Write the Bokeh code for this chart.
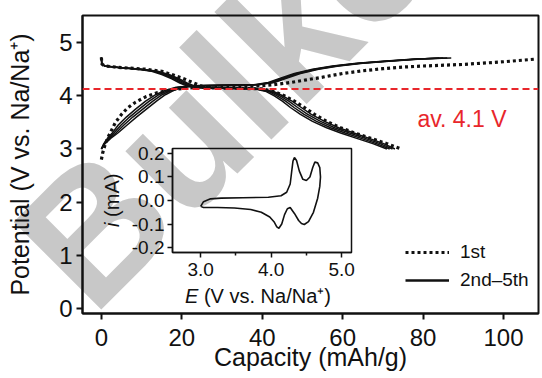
import math
from bokeh.plotting import figure
from bokeh.models import Range1d, Span, Label, Legend, LegendItem, FixedTicker, Div
from bokeh.layouts import column
from bokeh.embed import file_html
from bokeh.resources import INLINE

# ---------------- data ----------------
# 1st cycle (dotted)
cap_ch1 = [0, 0.3, 0.8, 1.5, 2.5, 3.5, 5, 6.5, 8.5, 11, 14, 18, 22, 30, 38, 43, 47, 51, 55, 60, 65, 70, 75, 80, 90, 100, 108]
v_ch1 = [2.80, 2.92, 3.05, 3.20, 3.35, 3.50, 3.65, 3.77, 3.88, 3.98, 4.06, 4.12, 4.15, 4.17, 4.18, 4.21, 4.25, 4.30, 4.35, 4.42, 4.47, 4.51, 4.54, 4.56, 4.59, 4.64, 4.69]
v_dis = [4.72, 4.60, 4.56, 4.53, 4.50, 4.46, 4.40, 4.32, 4.24, 4.18, 4.15, 4.13, 4.08, 4.00, 3.90, 3.78, 3.65, 3.52, 3.40, 3.30, 3.20, 3.10, 3.00]
cap_dis1 = [0, 0.1, 0.8, 5, 11, 15, 17.5, 20.5, 23, 25, 27, 40, 43, 45.5, 48, 50.5, 53, 56, 59.5, 63, 67, 71, 74.5]

# 2nd-5th cycles (solid)
v_ch = [3.00, 3.10, 3.20, 3.30, 3.45, 3.60, 3.75, 3.90, 4.02, 4.10, 4.16, 4.19, 4.21, 4.25, 4.33, 4.42, 4.50, 4.56, 4.61, 4.65, 4.69, 4.71]
cap_ch2 = [0, 0.6, 1.5, 2.7, 4.2, 6.2, 8.5, 11.0, 13.5, 15.8, 18.6, 22.5, 38, 41.5, 44.5, 48, 52.5, 57.5, 63.5, 70, 78, 87]
cap_ch3 = [0, 0.7, 1.7, 3.1, 4.9, 7.0, 9.4, 11.9, 14.3, 16.5, 19.2, 23.0, 38.5, 42, 45, 48.5, 53, 58, 64, 70.5, 78.5, 86]
cap_ch4 = [0, 0.8, 2.0, 3.6, 5.6, 7.8, 10.3, 12.8, 15.1, 17.2, 19.8, 23.5, 39, 42.5, 45.5, 49, 53.5, 58.5, 64.5, 71, 79, 85]
cap_ch5 = [0, 0.9, 2.3, 4.1, 6.4, 8.7, 11.2, 13.7, 15.9, 17.9, 20.4, 24.0, 39.5, 43, 46, 49.5, 54, 59, 65, 71.5, 79.5, 84]
cap_dis2 = [0, 0.1, 0.8, 4, 9, 12.5, 15, 17.5, 19.5, 21.5, 24, 38, 41, 43, 45, 47, 49.5, 52.5, 56, 59.5, 63.5, 67.5, 71]
cap_dis3 = [0, 0.1, 0.8, 4.2, 9.4, 13.0, 15.6, 18.1, 20.1, 22.1, 24.6, 38.4, 41.6, 43.7, 45.8, 47.9, 50.4, 53.5, 57.0, 60.6, 64.6, 68.4, 71.7]
cap_dis4 = [0, 0.1, 0.8, 4.4, 9.8, 13.5, 16.2, 18.7, 20.7, 22.7, 25.2, 38.8, 42.2, 44.4, 46.6, 48.8, 51.3, 54.5, 58.0, 61.7, 65.6, 69.3, 72.4]
cap_dis5 = [0, 0.1, 0.8, 4.6, 10.2, 14.0, 16.8, 19.3, 21.3, 23.3, 25.8, 39.2, 42.8, 45.1, 47.4, 49.7, 52.2, 55.5, 59.0, 62.8, 66.6, 70.2, 73.0]

avg_voltage = 4.13
avg_text = "av. 4.1 V"
legend_labels = ["1st", "2nd\u20135th"]
watermark = "Bulke"

# CV inset
cv_e = [3.00, 3.04, 3.14, 3.29, 3.60, 3.96, 4.14, 4.22, 4.27, 4.29, 4.31, 4.33, 4.36, 4.40, 4.45, 4.50, 4.55, 4.59, 4.62, 4.66, 4.69, 4.70, 4.69, 4.66, 4.60, 4.53, 4.47, 4.43, 4.39, 4.33, 4.27, 4.23, 4.19, 4.15, 4.11, 4.08, 4.04, 3.98, 3.86, 3.71, 3.48, 3.24, 3.04, 3.00]
cv_i = [-0.025, -0.005, 0.007, 0.010, 0.012, 0.014, 0.020, 0.035, 0.070, 0.120, 0.168, 0.183, 0.170, 0.125, 0.090, 0.085, 0.100, 0.140, 0.163, 0.160, 0.140, 0.100, 0.060, 0.010, -0.050, -0.090, -0.102, -0.098, -0.085, -0.055, -0.030, -0.035, -0.060, -0.100, -0.118, -0.112, -0.090, -0.070, -0.050, -0.038, -0.032, -0.030, -0.030, -0.025]

x_ticks = [0, 20, 40, 60, 80, 100]
y_ticks = [0, 1, 2, 3, 4, 5]
ins_x_ticks = [3.0, 4.0, 5.0]
ins_x_minor = [3.5, 4.5]
ins_x_labels = ["3.0", "4.0", "5.0"]
ins_y_ticks = [-0.2, -0.1, 0.0, 0.1, 0.2]
ins_y_labels = ["-0.2", "-0.1", "0.0", "0.1", "0.2"]

FONT = "Liberation Sans"
BLACK = "#111111"
RED = "#e8262b"
W, H = 542, 378
LB, RB = 82, 4   # left/right borders shared by the two plots (a column aligns them)

# ---------------- background layer: watermark + inset axis titles (HTML) ----------------
def abs_text(x, y_base, size, angle_deg, inner, extra=""):
    asc = 0.8465 * size   # baseline offset for line-height 1 (Liberation Sans)
    return ('<div style="position:absolute;left:%.1fpx;top:%.1fpx;font-size:%dpx;line-height:1;'
            'white-space:nowrap;transform-origin:0 %.1fpx;transform:rotate(%.1fdeg);%s">%s</div>'
            % (x, y_base - asc, size, asc, -angle_deg, extra, inner))


html = ('<div style="position:relative;width:%dpx;height:%dpx;overflow:hidden;background:white;'
        'font-family:\'%s\';color:%s;">' % (W, H, FONT, BLACK))
html += abs_text(93, 318, 180, 45, watermark, "font-weight:bold;color:#c8c8c8;")
html += abs_text(185, 303, 20, 0, "<i>E</i> (V vs. Na/Na\u207a)")
html += abs_text(119, 227, 20, 90, "<i>i</i> (mA)")
html += "</div>"
bg = Div(text=html, width=W, height=H, margin=0)

# ---------------- main figure ----------------
p = figure(width=W, height=H, x_range=Range1d(-4.7, 108.7), y_range=Range1d(-0.094, 5.51),
           output_backend="svg", toolbar_location=None,
           min_border_left=LB, min_border_right=RB, min_border_top=15, min_border_bottom=65)
p.margin = (-H, 0, 0, 0)
p.grid.visible = False
p.outline_line_color = BLACK
p.outline_line_width = 2
p.background_fill_alpha = 0
p.border_fill_alpha = 0

for ax in (p.xaxis[0], p.yaxis[0]):
    ax.axis_line_width = 2
    ax.axis_line_color = BLACK
    ax.major_tick_line_width = 2
    ax.major_tick_line_color = BLACK
    ax.major_tick_out = 6
    ax.major_tick_in = 0
    ax.minor_tick_line_color = None
    ax.major_label_text_font = FONT
    ax.major_label_text_font_size = "24px"
    ax.major_label_text_color = BLACK
    ax.axis_label_text_font = FONT
    ax.axis_label_text_font_size = "25px"
    ax.axis_label_text_font_style = "normal"
    ax.axis_label_text_color = BLACK

p.xaxis.ticker = FixedTicker(ticks=x_ticks)
p.yaxis.ticker = FixedTicker(ticks=y_ticks)
p.xaxis.axis_label = "Capacity (mAh/g)"
p.yaxis.axis_label = "Potential (V vs. Na/Na\u207a)"
p.xaxis.major_label_standoff = 9
p.xaxis.axis_label_standoff = -6
p.yaxis.major_label_standoff = 4
p.yaxis.axis_label_standoff = 22

solid_kw = dict(line_color=BLACK, line_width=1.5)
for cx, vy in ((cap_ch2, v_ch), (cap_ch3, v_ch), (cap_ch4, v_ch), (cap_ch5, v_ch),
               (cap_dis2, v_dis), (cap_dis3, v_dis), (cap_dis4, v_dis), (cap_dis5, v_dis)):
    p.line(cx, vy, **solid_kw)

dot_kw = dict(line_color=BLACK, line_width=3.2, line_dash="3 3")
p.line(cap_ch1, v_ch1, **dot_kw)
p.line(cap_dis1, v_dis, **dot_kw)

p.add_layout(Span(location=avg_voltage, dimension="width", line_color=RED,
                  line_width=2, line_dash="7 4"))
p.add_layout(Label(x=78.6, y=3.57, text=avg_text, text_color=RED, text_font=FONT,
                   text_font_size="23px", text_baseline="alphabetic"))

leg_dot = p.line([None], [None], line_color=BLACK, line_width=3, line_dash="3 3")
leg_sol = p.line([None], [None], line_color=BLACK, line_width=2.5)
legend = Legend(items=[LegendItem(label=legend_labels[0], renderers=[leg_dot]),
                       LegendItem(label=legend_labels[1], renderers=[leg_sol])],
                location=(323, 22), padding=0, margin=0, spacing=6,
                glyph_width=44, glyph_height=18, label_standoff=11,
                label_text_font=FONT, label_text_font_size="19px",
                label_text_color=BLACK, border_line_color=None,
                background_fill_alpha=0)
p.add_layout(legend)

# ---------------- inset ----------------
ins = figure(width=LB + 179 + RB, height=162, x_range=Range1d(2.6, 5.14), y_range=Range1d(-0.221, 0.221),
             output_backend="svg", toolbar_location=None,
             min_border_left=LB, min_border_right=RB, min_border_top=8, min_border_bottom=50)
ins.margin = (140 - H, 0, 0, 172 - LB)
ins.grid.visible = False
ins.background_fill_alpha = 0
ins.border_fill_alpha = 0
ins.outline_line_color = BLACK
ins.outline_line_width = 1.5
for ax in (ins.xaxis[0], ins.yaxis[0]):
    ax.axis_line_width = 1.5
    ax.axis_line_color = BLACK
    ax.major_tick_line_width = 1.5
    ax.major_tick_line_color = BLACK
    ax.major_tick_out = 5
    ax.major_tick_in = 0
    ax.minor_tick_line_width = 1.5
    ax.minor_tick_line_color = BLACK
    ax.minor_tick_out = 3
    ax.minor_tick_in = 0
    ax.major_label_text_font = FONT
    ax.major_label_text_font_size = "19px"
    ax.major_label_text_color = BLACK
ins.xaxis.ticker = FixedTicker(ticks=ins_x_ticks, minor_ticks=ins_x_minor)
ins.yaxis.ticker = FixedTicker(ticks=ins_y_ticks)
ins.yaxis.minor_tick_line_color = None
ins.xaxis.major_label_overrides = dict(zip(ins_x_ticks, ins_x_labels))
ins.yaxis.major_label_overrides = dict(zip(ins_y_ticks, ins_y_labels))
ins.xaxis.major_label_standoff = 5
ins.yaxis.major_label_standoff = 3

ins.line(cv_e, cv_i, line_color=BLACK, line_width=1.6)

layout = column(bg, p, ins)
open("out.html", "w").write(file_html(layout, INLINE))
